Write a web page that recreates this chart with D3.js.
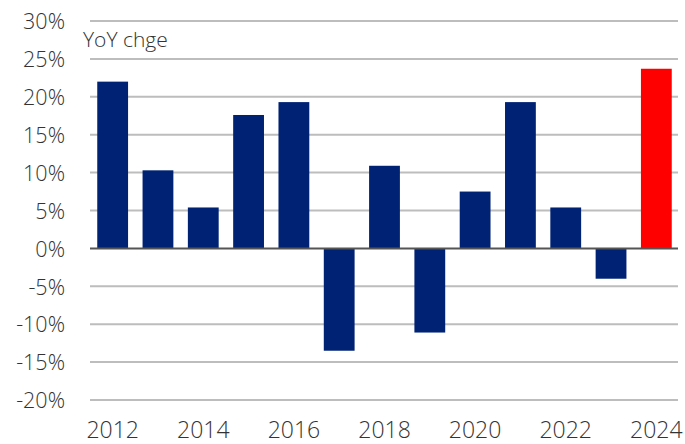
<!DOCTYPE html>
<html><head><meta charset="utf-8">
<script src="https://cdn.jsdelivr.net/npm/d3@7"></script>
<style>
html,body{margin:0;padding:0;background:#fff;}
svg{display:block;}
text{font-family:"Open Sans",sans-serif;font-weight:300;fill:#333;}
</style></head>
<body><svg id="c" width="685" height="444"></svg>
<script>
const years = ["2012","2013","2014","2015","2016","2017","2018","2019","2020","2021","2022","2023","2024"];
const values = [22.0,10.3,5.4,17.6,19.3,-13.5,10.9,-11.1,7.5,19.3,5.4,-4.0,23.7];
const xTickLabels = ["2012","2014","2016","2018","2020","2022","2024"];
const yTicks = [-20,-15,-10,-5,0,5,10,15,20,25,30];
const highlightYear = "2024";

const svg = d3.select("#c");
const x = d3.scaleBand().domain(years).range([90,679]).paddingInner(0.32).paddingOuter(0.16);
const y = d3.scaleLinear().domain([-20,30]).range([400,21]);

// gridlines
svg.append("g").selectAll("line").data(yTicks.filter(d=>d!==0)).join("line")
  .attr("x1",90).attr("x2",678).attr("y1",d=>y(d)).attr("y2",d=>y(d))
  .attr("stroke","#bdbdbd").attr("stroke-width",2);

// y labels
const yAxis = d3.axisLeft(y).tickValues(yTicks).tickFormat(d=>d+"%").tickSize(0).tickPadding(0);
const ya = svg.append("g").attr("transform","translate(65,0)").call(yAxis);
ya.select(".domain").remove();
ya.selectAll("text").style("font-size","21.5px").style("font-stretch","96%").attr("fill","#333").attr("dy","0.36em");

// bars
svg.append("g").selectAll("rect").data(years).join("rect")
  .attr("x",d=>x(d)).attr("width",x.bandwidth())
  .attr("y",(d,i)=>y(Math.max(0,values[i])))
  .attr("height",(d,i)=>Math.abs(y(values[i])-y(0)))
  .attr("fill",d=>d===highlightYear?"#ff0000":"#002274");

// zero line
svg.append("line").attr("x1",90).attr("x2",678).attr("y1",y(0)).attr("y2",y(0))
  .attr("stroke","#555").attr("stroke-width",2);

// x labels
const xAxis = d3.axisBottom(x).tickValues(xTickLabels).tickSize(0).tickPadding(0);
const xa = svg.append("g").attr("transform","translate(0,438)").call(xAxis);
xa.select(".domain").remove();
xa.selectAll("text").style("font-size","23px").style("font-stretch","88%").attr("fill","#333").attr("dy","0");

svg.append("text").attr("x",83).attr("y",47).text("YoY chge").style("font-size","21px").style("font-stretch","95%");
</script></body></html>
